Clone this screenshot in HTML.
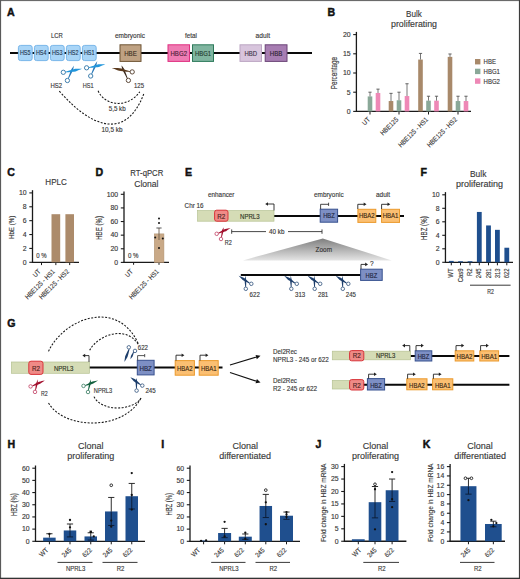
<!DOCTYPE html>
<html><head><meta charset="utf-8"><style>
html,body{margin:0;padding:0;background:#fff;}
svg{display:block;}
text{font-family:"Liberation Sans", sans-serif;stroke-width:0.14px;paint-order:stroke;}
svg{-webkit-font-smoothing:antialiased;}
</style></head><body>
<svg width="520" height="579" viewBox="0 0 520 579">
<rect x="0" y="0" width="520" height="579" fill="#fff"/>
<text x="7" y="16.4" font-size="10.6" fill="#111" stroke="#111" text-anchor="start" font-weight="bold" style="stroke-width:0.45px">A</text>
<text x="51" y="37.6" font-size="6.9" fill="#383838" stroke="#383838" text-anchor="start" textLength="11.8" lengthAdjust="spacingAndGlyphs">LCR</text>
<text x="115" y="37.6" font-size="6.9" fill="#383838" stroke="#383838" text-anchor="start" textLength="30" lengthAdjust="spacingAndGlyphs">embryonic</text>
<text x="185" y="37.6" font-size="6.9" fill="#383838" stroke="#383838" text-anchor="start" textLength="12" lengthAdjust="spacingAndGlyphs">fetal</text>
<text x="255.6" y="37.6" font-size="6.9" fill="#383838" stroke="#383838" text-anchor="start" textLength="14.4" lengthAdjust="spacingAndGlyphs">adult</text>
<line x1="10" y1="53" x2="312" y2="53" stroke="#0a0a0a" stroke-width="2"/>
<rect x="18.4" y="45.4" width="13.8" height="15.2" fill="#a9d5f7" stroke="#6eb0e6" stroke-width="0.9" rx="2.2"/>
<text x="25.2" y="55.4" font-size="7.2" fill="#22364f" stroke="#22364f" text-anchor="middle" textLength="10.6" lengthAdjust="spacingAndGlyphs">HS5</text>
<rect x="34.4" y="45.4" width="13.8" height="15.2" fill="#a9d5f7" stroke="#6eb0e6" stroke-width="0.9" rx="2.2"/>
<text x="41.2" y="55.4" font-size="7.2" fill="#22364f" stroke="#22364f" text-anchor="middle" textLength="10.6" lengthAdjust="spacingAndGlyphs">HS4</text>
<rect x="50.4" y="45.4" width="13.8" height="15.2" fill="#a9d5f7" stroke="#6eb0e6" stroke-width="0.9" rx="2.2"/>
<text x="57.2" y="55.4" font-size="7.2" fill="#22364f" stroke="#22364f" text-anchor="middle" textLength="10.6" lengthAdjust="spacingAndGlyphs">HS3</text>
<rect x="66.4" y="45.4" width="13.8" height="15.2" fill="#a9d5f7" stroke="#6eb0e6" stroke-width="0.9" rx="2.2"/>
<text x="73.2" y="55.4" font-size="7.2" fill="#22364f" stroke="#22364f" text-anchor="middle" textLength="10.6" lengthAdjust="spacingAndGlyphs">HS2</text>
<rect x="82.4" y="45.4" width="13.8" height="15.2" fill="#a9d5f7" stroke="#6eb0e6" stroke-width="0.9" rx="2.2"/>
<text x="89.2" y="55.4" font-size="7.2" fill="#22364f" stroke="#22364f" text-anchor="middle" textLength="10.6" lengthAdjust="spacingAndGlyphs">HS1</text>
<rect x="120" y="44.8" width="21" height="16.6" fill="#bfa283" stroke="#6e5434" stroke-width="1" rx="0"/>
<text x="130.5" y="55.6" font-size="7.2" fill="#3d3024" stroke="#3d3024" text-anchor="middle" textLength="12.600000000000001" lengthAdjust="spacingAndGlyphs">HBE</text>
<rect x="168" y="44.8" width="21.5" height="16.6" fill="#ef7cb3" stroke="#df2f80" stroke-width="1" rx="0"/>
<text x="178.75" y="55.6" font-size="7.2" fill="#4a2035" stroke="#4a2035" text-anchor="middle" textLength="16.5" lengthAdjust="spacingAndGlyphs">HBG2</text>
<rect x="192.5" y="44.8" width="21" height="16.6" fill="#80b5a0" stroke="#2d7a5a" stroke-width="1" rx="0"/>
<text x="203.0" y="55.6" font-size="7.2" fill="#1f3a2e" stroke="#1f3a2e" text-anchor="middle" textLength="16" lengthAdjust="spacingAndGlyphs">HBG1</text>
<rect x="240" y="44.8" width="21.5" height="16.6" fill="#d8c5dd" stroke="#bca6c3" stroke-width="1" rx="0"/>
<text x="250.75" y="55.6" font-size="7.2" fill="#3e3346" stroke="#3e3346" text-anchor="middle" textLength="12.600000000000001" lengthAdjust="spacingAndGlyphs">HBD</text>
<rect x="265.2" y="44.8" width="21.8" height="16.6" fill="#a77db2" stroke="#6b4577" stroke-width="1" rx="0"/>
<text x="276.09999999999997" y="55.6" font-size="7.2" fill="#2e2233" stroke="#2e2233" text-anchor="middle" textLength="12.600000000000001" lengthAdjust="spacingAndGlyphs">HBB</text>
<polygon points="68.61,78.68 69.30,77.47 69.95,76.23 70.60,74.99 71.23,73.75 71.87,72.51 72.50,71.27 73.05,69.99 73.36,68.60 73.65,67.21 73.95,65.82 73.85,65.78 73.03,66.94 72.20,68.09 71.38,69.25 70.81,70.53 70.32,71.83 69.84,73.14 69.35,74.45 68.88,75.76 68.41,77.07 67.97,78.40" fill="#2a78b8"/><polygon points="65.51,72.43 67.22,72.35 68.91,72.19 70.60,72.02 72.29,71.84 73.98,71.65 75.65,71.38 77.24,70.74 78.83,70.09 80.42,69.42 82.01,68.75 81.99,68.65 80.27,68.66 78.54,68.67 76.82,68.70 75.11,68.73 73.46,69.14 71.84,69.63 70.21,70.13 68.59,70.63 66.97,71.16 65.37,71.75" fill="#2196dc"/><circle cx="63.30" cy="72.30" r="2.15" fill="none" stroke="#3f7fae" stroke-width="1.0"/><circle cx="67.40" cy="80.50" r="2.15" fill="none" stroke="#3f7fae" stroke-width="1.0"/>
<polygon points="91.91,74.18 92.60,72.97 93.25,71.73 93.90,70.49 94.53,69.25 95.17,68.01 95.80,66.77 96.35,65.49 96.66,64.10 96.95,62.71 97.25,61.32 97.15,61.28 96.33,62.44 95.50,63.59 94.68,64.75 94.11,66.03 93.62,67.33 93.14,68.64 92.65,69.95 92.18,71.26 91.71,72.57 91.27,73.90" fill="#2a78b8"/><polygon points="88.81,67.93 90.52,67.85 92.21,67.69 93.90,67.52 95.59,67.34 97.28,67.15 98.95,66.88 100.54,66.24 102.13,65.59 103.72,64.92 105.31,64.25 105.29,64.15 103.57,64.16 101.84,64.17 100.12,64.20 98.41,64.23 96.76,64.64 95.14,65.13 93.51,65.63 91.89,66.13 90.27,66.66 88.67,67.25" fill="#2196dc"/><circle cx="86.60" cy="67.80" r="2.15" fill="none" stroke="#3f7fae" stroke-width="1.0"/><circle cx="90.70" cy="76.00" r="2.15" fill="none" stroke="#3f7fae" stroke-width="1.0"/>
<polygon points="127.73,78.35 127.25,76.99 126.75,75.64 126.24,74.29 125.72,72.95 125.20,71.61 124.68,70.27 124.15,68.93 123.35,67.72 122.45,66.55 121.55,65.38 121.45,65.42 121.73,66.87 122.02,68.32 122.39,69.72 123.05,71.00 123.71,72.28 124.37,73.56 125.03,74.84 125.70,76.11 126.38,77.38 127.09,78.64" fill="#3a2a1e"/><polygon points="130.13,71.29 128.40,70.69 126.65,70.15 124.89,69.63 123.14,69.12 121.38,68.62 119.61,68.17 117.76,68.12 115.92,68.09 114.06,68.07 112.21,68.05 112.19,68.15 113.91,68.84 115.63,69.53 117.36,70.20 119.08,70.85 120.89,71.11 122.70,71.32 124.52,71.52 126.34,71.70 128.16,71.87 130.00,71.98" fill="#5a3a1e"/><circle cx="132.20" cy="71.90" r="2.15" fill="none" stroke="#5e4a3a" stroke-width="1.0"/><circle cx="128.40" cy="80.40" r="2.15" fill="none" stroke="#5e4a3a" stroke-width="1.0"/>
<text x="50.4" y="87.5" font-size="6.6" fill="#383838" stroke="#383838" text-anchor="start" textLength="11.6" lengthAdjust="spacingAndGlyphs">HS2</text>
<text x="82.7" y="87.5" font-size="6.6" fill="#383838" stroke="#383838" text-anchor="start" textLength="10.8" lengthAdjust="spacingAndGlyphs">HS1</text>
<text x="134" y="87.5" font-size="6.6" fill="#383838" stroke="#383838" text-anchor="start" textLength="10" lengthAdjust="spacingAndGlyphs">125</text>
<path d="M 98.1 90.8 C 105 106.4, 128 108.4, 139.8 91.8" stroke="#151515" stroke-width="1.05" fill="none" stroke-dasharray="2 1.5"/>
<path d="M 59.3 91.1 C 92.3 128.9, 126.4 139.9, 143.8 93.8" stroke="#151515" stroke-width="1.05" fill="none" stroke-dasharray="2 1.5"/>
<text x="108.7" y="111.0" font-size="6.6" fill="#383838" stroke="#383838" text-anchor="start" textLength="17" lengthAdjust="spacingAndGlyphs">5,5 kb</text>
<text x="101.5" y="132.2" font-size="6.6" fill="#383838" stroke="#383838" text-anchor="start" textLength="21" lengthAdjust="spacingAndGlyphs">10,5 kb</text>
<text x="327.6" y="16.4" font-size="10.6" fill="#111" stroke="#111" text-anchor="start" font-weight="bold" style="stroke-width:0.45px">B</text>
<text x="414" y="16.6" font-size="9" fill="#383838" stroke="#383838" text-anchor="middle" textLength="15.8" lengthAdjust="spacingAndGlyphs">Bulk</text>
<text x="414" y="26.5" font-size="9" fill="#383838" stroke="#383838" text-anchor="middle" textLength="46" lengthAdjust="spacingAndGlyphs">proliferating</text>
<line x1="356.4" y1="31.90000000000001" x2="356.4" y2="112.0" stroke="#1a1a1a" stroke-width="1.3"/>
<line x1="353.2" y1="111.4" x2="356.4" y2="111.4" stroke="#1a1a1a" stroke-width="1.1"/>
<text x="350.59999999999997" y="113.727" font-size="6.5" fill="#383838" stroke="#383838" text-anchor="end" textLength="3.83" lengthAdjust="spacingAndGlyphs">0</text>
<line x1="353.2" y1="92.2" x2="356.4" y2="92.2" stroke="#1a1a1a" stroke-width="1.1"/>
<text x="350.59999999999997" y="94.527" font-size="6.5" fill="#383838" stroke="#383838" text-anchor="end" textLength="3.83" lengthAdjust="spacingAndGlyphs">5</text>
<line x1="353.2" y1="73.0" x2="356.4" y2="73.0" stroke="#1a1a1a" stroke-width="1.1"/>
<text x="350.59999999999997" y="75.327" font-size="6.5" fill="#383838" stroke="#383838" text-anchor="end" textLength="7.66" lengthAdjust="spacingAndGlyphs">10</text>
<line x1="353.2" y1="53.80000000000001" x2="356.4" y2="53.80000000000001" stroke="#1a1a1a" stroke-width="1.1"/>
<text x="350.59999999999997" y="56.12700000000001" font-size="6.5" fill="#383838" stroke="#383838" text-anchor="end" textLength="7.66" lengthAdjust="spacingAndGlyphs">15</text>
<line x1="353.2" y1="34.60000000000001" x2="356.4" y2="34.60000000000001" stroke="#1a1a1a" stroke-width="1.1"/>
<text x="350.59999999999997" y="36.92700000000001" font-size="6.5" fill="#383838" stroke="#383838" text-anchor="end" textLength="7.66" lengthAdjust="spacingAndGlyphs">20</text>
<line x1="356" y1="111.4" x2="471" y2="111.4" stroke="#1a1a1a" stroke-width="1.3"/>
<text x="337.4" y="73.2" font-size="8.5" fill="#383838" stroke="#383838" text-anchor="middle" textLength="32.2" lengthAdjust="spacingAndGlyphs" transform="rotate(-90 337.4 73.2)">Percentage</text>
<line x1="370" y1="111.5" x2="370" y2="114.5" stroke="#1a1a1a" stroke-width="1"/>
<rect x="367.7" y="96.424" width="4.6" height="14.975999999999999" fill="#8aa898" stroke="none" stroke-width="1" rx="0"/>
<line x1="370" y1="92.2" x2="370" y2="96.424" stroke="#555" stroke-width="0.8"/>
<line x1="368.4" y1="92.2" x2="371.6" y2="92.2" stroke="#555" stroke-width="0.9"/>
<rect x="375.7" y="92.968" width="4.6" height="18.432" fill="#ee88b6" stroke="none" stroke-width="1" rx="0"/>
<line x1="378" y1="89.12800000000001" x2="378" y2="92.968" stroke="#555" stroke-width="0.8"/>
<line x1="376.4" y1="89.12800000000001" x2="379.6" y2="89.12800000000001" stroke="#555" stroke-width="0.9"/>
<line x1="399" y1="111.5" x2="399" y2="114.5" stroke="#1a1a1a" stroke-width="1"/>
<rect x="388.7" y="101.03200000000001" width="4.6" height="10.368" fill="#a8896a" stroke="none" stroke-width="1" rx="0"/>
<line x1="391" y1="93.352" x2="391" y2="101.03200000000001" stroke="#555" stroke-width="0.8"/>
<line x1="389.4" y1="93.352" x2="392.6" y2="93.352" stroke="#555" stroke-width="0.9"/>
<rect x="396.7" y="100.26400000000001" width="4.6" height="11.136" fill="#8aa898" stroke="none" stroke-width="1" rx="0"/>
<line x1="399" y1="92.2" x2="399" y2="100.26400000000001" stroke="#555" stroke-width="0.8"/>
<line x1="397.4" y1="92.2" x2="400.6" y2="92.2" stroke="#555" stroke-width="0.9"/>
<rect x="404.7" y="96.04" width="4.6" height="15.36" fill="#ee88b6" stroke="none" stroke-width="1" rx="0"/>
<line x1="407" y1="83.75200000000001" x2="407" y2="96.04" stroke="#555" stroke-width="0.8"/>
<line x1="405.4" y1="83.75200000000001" x2="408.6" y2="83.75200000000001" stroke="#555" stroke-width="0.9"/>
<line x1="428.5" y1="111.5" x2="428.5" y2="114.5" stroke="#1a1a1a" stroke-width="1"/>
<rect x="418.2" y="59.56000000000001" width="4.6" height="51.839999999999996" fill="#a8896a" stroke="none" stroke-width="1" rx="0"/>
<line x1="420.5" y1="53.41600000000001" x2="420.5" y2="59.56000000000001" stroke="#555" stroke-width="0.8"/>
<line x1="418.9" y1="53.41600000000001" x2="422.1" y2="53.41600000000001" stroke="#555" stroke-width="0.9"/>
<rect x="426.2" y="100.64800000000001" width="4.6" height="10.751999999999999" fill="#8aa898" stroke="none" stroke-width="1" rx="0"/>
<line x1="428.5" y1="96.232" x2="428.5" y2="100.64800000000001" stroke="#555" stroke-width="0.8"/>
<line x1="426.9" y1="96.232" x2="430.1" y2="96.232" stroke="#555" stroke-width="0.9"/>
<rect x="434.2" y="100.64800000000001" width="4.6" height="10.751999999999999" fill="#ee88b6" stroke="none" stroke-width="1" rx="0"/>
<line x1="436.5" y1="96.232" x2="436.5" y2="100.64800000000001" stroke="#555" stroke-width="0.8"/>
<line x1="434.9" y1="96.232" x2="438.1" y2="96.232" stroke="#555" stroke-width="0.9"/>
<line x1="458" y1="111.5" x2="458" y2="114.5" stroke="#1a1a1a" stroke-width="1"/>
<rect x="447.7" y="56.87200000000001" width="4.6" height="54.528" fill="#a8896a" stroke="none" stroke-width="1" rx="0"/>
<line x1="450" y1="53.99200000000001" x2="450" y2="56.87200000000001" stroke="#555" stroke-width="0.8"/>
<line x1="448.4" y1="53.99200000000001" x2="451.6" y2="53.99200000000001" stroke="#555" stroke-width="0.9"/>
<rect x="455.7" y="101.03200000000001" width="4.6" height="10.368" fill="#8aa898" stroke="none" stroke-width="1" rx="0"/>
<line x1="458" y1="96.232" x2="458" y2="101.03200000000001" stroke="#555" stroke-width="0.8"/>
<line x1="456.4" y1="96.232" x2="459.6" y2="96.232" stroke="#555" stroke-width="0.9"/>
<rect x="463.7" y="101.03200000000001" width="4.6" height="10.368" fill="#ee88b6" stroke="none" stroke-width="1" rx="0"/>
<line x1="466" y1="96.232" x2="466" y2="101.03200000000001" stroke="#555" stroke-width="0.8"/>
<line x1="464.4" y1="96.232" x2="467.6" y2="96.232" stroke="#555" stroke-width="0.9"/>
<text x="370.5" y="120" font-size="6.8" fill="#383838" stroke="#383838" text-anchor="end" textLength="7.98" lengthAdjust="spacingAndGlyphs" transform="rotate(-45 370.5 120)">UT</text>
<text x="398.8" y="120" font-size="6.8" fill="#383838" stroke="#383838" text-anchor="end" textLength="22.29" lengthAdjust="spacingAndGlyphs" transform="rotate(-45 398.8 120)">HBE125</text>
<text x="428.7" y="120" font-size="6.8" fill="#383838" stroke="#383838" text-anchor="end" textLength="39.25" lengthAdjust="spacingAndGlyphs" transform="rotate(-45 428.7 120)">HBE125 - HS1</text>
<text x="457.5" y="120" font-size="6.8" fill="#383838" stroke="#383838" text-anchor="end" textLength="39.25" lengthAdjust="spacingAndGlyphs" transform="rotate(-45 457.5 120)">HBE125 - HS2</text>
<rect x="475" y="59.0" width="5.4" height="5.4" fill="#a8896a" stroke="none" stroke-width="1" rx="0"/>
<text x="483.6" y="64.2" font-size="6.9" fill="#383838" stroke="#383838" text-anchor="start" textLength="12.34" lengthAdjust="spacingAndGlyphs">HBE</text>
<rect x="475" y="68.7" width="5.4" height="5.4" fill="#8aa898" stroke="none" stroke-width="1" rx="0"/>
<text x="483.6" y="73.9" font-size="6.9" fill="#383838" stroke="#383838" text-anchor="start" textLength="16.35" lengthAdjust="spacingAndGlyphs">HBG1</text>
<rect x="475" y="78.4" width="5.4" height="5.4" fill="#ee88b6" stroke="none" stroke-width="1" rx="0"/>
<text x="483.6" y="83.60000000000001" font-size="6.9" fill="#383838" stroke="#383838" text-anchor="start" textLength="16.35" lengthAdjust="spacingAndGlyphs">HBG2</text>
<text x="7.3" y="176.2" font-size="10.6" fill="#111" stroke="#111" text-anchor="start" font-weight="bold" style="stroke-width:0.45px">C</text>
<text x="56.1" y="185" font-size="9" fill="#383838" stroke="#383838" text-anchor="middle" textLength="21.5" lengthAdjust="spacingAndGlyphs">HPLC</text>
<line x1="32.5" y1="190.20000000000002" x2="32.5" y2="262.90000000000003" stroke="#1a1a1a" stroke-width="1.3"/>
<line x1="29.3" y1="262.3" x2="32.5" y2="262.3" stroke="#1a1a1a" stroke-width="1.1"/>
<text x="26.7" y="264.627" font-size="6.5" fill="#383838" stroke="#383838" text-anchor="end" textLength="3.83" lengthAdjust="spacingAndGlyphs">0</text>
<line x1="29.3" y1="248.42000000000002" x2="32.5" y2="248.42000000000002" stroke="#1a1a1a" stroke-width="1.1"/>
<text x="26.7" y="250.747" font-size="6.5" fill="#383838" stroke="#383838" text-anchor="end" textLength="3.83" lengthAdjust="spacingAndGlyphs">2</text>
<line x1="29.3" y1="234.54000000000002" x2="32.5" y2="234.54000000000002" stroke="#1a1a1a" stroke-width="1.1"/>
<text x="26.7" y="236.86700000000002" font-size="6.5" fill="#383838" stroke="#383838" text-anchor="end" textLength="3.83" lengthAdjust="spacingAndGlyphs">4</text>
<line x1="29.3" y1="220.66000000000003" x2="32.5" y2="220.66000000000003" stroke="#1a1a1a" stroke-width="1.1"/>
<text x="26.7" y="222.98700000000002" font-size="6.5" fill="#383838" stroke="#383838" text-anchor="end" textLength="3.83" lengthAdjust="spacingAndGlyphs">6</text>
<line x1="29.3" y1="206.78" x2="32.5" y2="206.78" stroke="#1a1a1a" stroke-width="1.1"/>
<text x="26.7" y="209.107" font-size="6.5" fill="#383838" stroke="#383838" text-anchor="end" textLength="3.83" lengthAdjust="spacingAndGlyphs">8</text>
<line x1="29.3" y1="192.9" x2="32.5" y2="192.9" stroke="#1a1a1a" stroke-width="1.1"/>
<text x="26.7" y="195.227" font-size="6.5" fill="#383838" stroke="#383838" text-anchor="end" textLength="7.66" lengthAdjust="spacingAndGlyphs">10</text>
<line x1="32" y1="262.3" x2="79" y2="262.3" stroke="#1a1a1a" stroke-width="1.3"/>
<text x="14.0" y="227.4" font-size="8.1" fill="#383838" stroke="#383838" text-anchor="middle" textLength="23.3" lengthAdjust="spacingAndGlyphs" transform="rotate(-90 14.0 227.4)">HbE (%)</text>
<line x1="41.5" y1="262.3" x2="41.5" y2="265.1" stroke="#1a1a1a" stroke-width="1"/>
<line x1="55.85" y1="262.3" x2="55.85" y2="265.1" stroke="#1a1a1a" stroke-width="1"/>
<line x1="69.7" y1="262.3" x2="69.7" y2="265.1" stroke="#1a1a1a" stroke-width="1"/>
<rect x="51.5" y="214.2" width="8.7" height="48.10000000000002" fill="#ac8b6b" stroke="none" stroke-width="1" rx="0"/>
<rect x="65.4" y="214.2" width="8.6" height="48.10000000000002" fill="#ac8b6b" stroke="none" stroke-width="1" rx="0"/>
<text x="36.3" y="257.7" font-size="6.6" fill="#383838" stroke="#383838" text-anchor="start" textLength="10.4" lengthAdjust="spacingAndGlyphs">0 %</text>
<text x="41.2" y="272" font-size="6.8" fill="#383838" stroke="#383838" text-anchor="end" textLength="7.98" lengthAdjust="spacingAndGlyphs" transform="rotate(-45 41.2 272)">UT</text>
<text x="55.4" y="272" font-size="6.8" fill="#383838" stroke="#383838" text-anchor="end" textLength="39.25" lengthAdjust="spacingAndGlyphs" transform="rotate(-45 55.4 272)">HBE125 - HS1</text>
<text x="69.5" y="272" font-size="6.8" fill="#383838" stroke="#383838" text-anchor="end" textLength="39.25" lengthAdjust="spacingAndGlyphs" transform="rotate(-45 69.5 272)">HBE125 - HS2</text>
<text x="95.4" y="176.2" font-size="10.6" fill="#111" stroke="#111" text-anchor="start" font-weight="bold" style="stroke-width:0.45px">D</text>
<text x="146.8" y="176.4" font-size="9" fill="#383838" stroke="#383838" text-anchor="middle" textLength="33" lengthAdjust="spacingAndGlyphs">RT-qPCR</text>
<text x="146.4" y="186.8" font-size="9" fill="#383838" stroke="#383838" text-anchor="middle" textLength="24.2" lengthAdjust="spacingAndGlyphs">Clonal</text>
<line x1="124" y1="191.59999999999997" x2="124" y2="263.0" stroke="#1a1a1a" stroke-width="1.3"/>
<line x1="120.8" y1="262.4" x2="124" y2="262.4" stroke="#1a1a1a" stroke-width="1.1"/>
<text x="118.2" y="264.727" font-size="6.5" fill="#383838" stroke="#383838" text-anchor="end" textLength="3.83" lengthAdjust="spacingAndGlyphs">0</text>
<line x1="120.8" y1="248.77999999999997" x2="124" y2="248.77999999999997" stroke="#1a1a1a" stroke-width="1.1"/>
<text x="118.2" y="251.10699999999997" font-size="6.5" fill="#383838" stroke="#383838" text-anchor="end" textLength="7.66" lengthAdjust="spacingAndGlyphs">20</text>
<line x1="120.8" y1="235.15999999999997" x2="124" y2="235.15999999999997" stroke="#1a1a1a" stroke-width="1.1"/>
<text x="118.2" y="237.48699999999997" font-size="6.5" fill="#383838" stroke="#383838" text-anchor="end" textLength="7.66" lengthAdjust="spacingAndGlyphs">40</text>
<line x1="120.8" y1="221.53999999999996" x2="124" y2="221.53999999999996" stroke="#1a1a1a" stroke-width="1.1"/>
<text x="118.2" y="223.86699999999996" font-size="6.5" fill="#383838" stroke="#383838" text-anchor="end" textLength="7.66" lengthAdjust="spacingAndGlyphs">60</text>
<line x1="120.8" y1="207.91999999999996" x2="124" y2="207.91999999999996" stroke="#1a1a1a" stroke-width="1.1"/>
<text x="118.2" y="210.24699999999996" font-size="6.5" fill="#383838" stroke="#383838" text-anchor="end" textLength="7.66" lengthAdjust="spacingAndGlyphs">80</text>
<line x1="120.8" y1="194.29999999999995" x2="124" y2="194.29999999999995" stroke="#1a1a1a" stroke-width="1.1"/>
<text x="118.2" y="196.62699999999995" font-size="6.5" fill="#383838" stroke="#383838" text-anchor="end" textLength="11.49" lengthAdjust="spacingAndGlyphs">100</text>
<line x1="123.5" y1="262.4" x2="169" y2="262.4" stroke="#1a1a1a" stroke-width="1.3"/>
<text x="102.0" y="227.9" font-size="8.7" fill="#383838" stroke="#383838" text-anchor="middle" textLength="23.9" lengthAdjust="spacingAndGlyphs" transform="rotate(-90 102.0 227.9)">HBE (%)</text>
<line x1="133.6" y1="262.4" x2="133.6" y2="264.79999999999995" stroke="#1a1a1a" stroke-width="1"/>
<line x1="159" y1="262.4" x2="159" y2="264.79999999999995" stroke="#1a1a1a" stroke-width="1"/>
<rect x="154.3" y="233.9" width="9.6" height="28.49999999999997" fill="#c9a987" stroke="#b39474" stroke-width="0.6" rx="0"/>
<line x1="159" y1="228" x2="159" y2="240" stroke="#6e5e4c" stroke-width="0.9"/>
<line x1="156.4" y1="228" x2="161.6" y2="228" stroke="#444" stroke-width="0.9"/>
<circle cx="159" cy="218.5" r="1.0" fill="#111" stroke="none" stroke-width="1"/>
<circle cx="159" cy="223" r="1.0" fill="#111" stroke="none" stroke-width="1"/>
<circle cx="155.2" cy="237.6" r="1.0" fill="#111" stroke="none" stroke-width="1"/>
<circle cx="162.8" cy="238.6" r="1.0" fill="#111" stroke="none" stroke-width="1"/>
<circle cx="159" cy="248" r="1.0" fill="#111" stroke="none" stroke-width="1"/>
<text x="128" y="258" font-size="6.6" fill="#383838" stroke="#383838" text-anchor="start" textLength="10.6" lengthAdjust="spacingAndGlyphs">0 %</text>
<text x="133.4" y="272" font-size="6.8" fill="#383838" stroke="#383838" text-anchor="end" textLength="7.98" lengthAdjust="spacingAndGlyphs" transform="rotate(-45 133.4 272)">UT</text>
<text x="159.4" y="272" font-size="6.8" fill="#383838" stroke="#383838" text-anchor="end" textLength="39.25" lengthAdjust="spacingAndGlyphs" transform="rotate(-45 159.4 272)">HBE125 - HS1</text>
<text x="185" y="176.2" font-size="10.6" fill="#111" stroke="#111" text-anchor="start" font-weight="bold" style="stroke-width:0.45px">E</text>
<text x="208" y="196.8" font-size="7.0" fill="#383838" stroke="#383838" text-anchor="start" textLength="26.5" lengthAdjust="spacingAndGlyphs">enhancer</text>
<text x="184.6" y="208.2" font-size="6.9" fill="#383838" stroke="#383838" text-anchor="start" textLength="18.9" lengthAdjust="spacingAndGlyphs">Chr 16</text>
<text x="314" y="197.4" font-size="6.9" fill="#383838" stroke="#383838" text-anchor="start" textLength="29.6" lengthAdjust="spacingAndGlyphs">embryonic</text>
<text x="376" y="197.4" font-size="6.9" fill="#383838" stroke="#383838" text-anchor="start" textLength="14" lengthAdjust="spacingAndGlyphs">adult</text>
<line x1="274" y1="216" x2="404" y2="216" stroke="#0a0a0a" stroke-width="2"/>
<rect x="197.6" y="210.6" width="76.4" height="10.6" fill="#d5dcb6" stroke="#b6c293" stroke-width="0.7" rx="0"/>
<rect x="214.6" y="210.2" width="13.4" height="11" fill="#ef8a86" stroke="#d8343a" stroke-width="1" rx="2"/>
<text x="221.3" y="219" font-size="6.8" fill="#4a1e1e" stroke="#4a1e1e" text-anchor="middle" textLength="8" lengthAdjust="spacingAndGlyphs">R2</text>
<text x="249.8" y="219" font-size="6.8" fill="#2e3322" stroke="#2e3322" text-anchor="middle" textLength="19.6" lengthAdjust="spacingAndGlyphs">NPRL3</text>
<path d="M 274 210.4 L 274 204 L 267.4 204" stroke="#222" stroke-width="0.9" fill="none"/>
<polygon points="265.2,204 268.0,202.2 268.0,205.8" fill="#222"/>
<rect x="320.2" y="209.2" width="17.4" height="13" fill="#7d8fc4" stroke="#37518f" stroke-width="1" rx="0"/>
<text x="329.0" y="218.2" font-size="6.8" fill="#1d2540" stroke="#1d2540" text-anchor="middle" textLength="11.6" lengthAdjust="spacingAndGlyphs">HBZ</text>
<path d="M 320.6 209 L 320.6 204.3 L 328.6 204.3" stroke="#333" stroke-width="0.9" fill="none"/>
<line x1="328.6" y1="202.70000000000002" x2="328.6" y2="205.9" stroke="#333" stroke-width="0.9"/>
<rect x="357.9" y="209.3" width="17.9" height="13.1" fill="#fbbf72" stroke="#eb9a2c" stroke-width="1" rx="0"/>
<rect x="381.6" y="209.3" width="17.9" height="13.1" fill="#fbbf72" stroke="#eb9a2c" stroke-width="1" rx="0"/>
<text x="366.8" y="218.2" font-size="6.8" fill="#3b2a12" stroke="#3b2a12" text-anchor="middle" textLength="15.8" lengthAdjust="spacingAndGlyphs">HBA2</text>
<text x="390.6" y="218.2" font-size="6.8" fill="#3b2a12" stroke="#3b2a12" text-anchor="middle" textLength="15.8" lengthAdjust="spacingAndGlyphs">HBA1</text>
<path d="M 357.8 209 L 357.8 204.3 L 364.3 204.3" stroke="#222" stroke-width="0.9" fill="none"/>
<polygon points="366.5,204.3 363.7,202.5 363.7,206.10000000000002" fill="#222"/>
<path d="M 381.6 209 L 381.6 204.3 L 388.1 204.3" stroke="#222" stroke-width="0.9" fill="none"/>
<polygon points="390.3,204.3 387.5,202.5 387.5,206.10000000000002" fill="#222"/>
<line x1="231.7" y1="231.6" x2="266" y2="231.6" stroke="#333" stroke-width="0.9"/>
<line x1="288" y1="231.6" x2="322" y2="231.6" stroke="#333" stroke-width="0.9"/>
<line x1="231.7" y1="229.4" x2="231.7" y2="233.8" stroke="#333" stroke-width="0.9"/>
<line x1="322" y1="229.4" x2="322" y2="233.8" stroke="#333" stroke-width="0.9"/>
<text x="269" y="234.2" font-size="6.6" fill="#383838" stroke="#383838" text-anchor="start" textLength="15.4" lengthAdjust="spacingAndGlyphs">40 kb</text>
<polygon points="221.73,237.37 222.04,236.41 222.32,235.45 222.60,234.48 222.88,233.51 223.15,232.55 223.41,231.58 223.68,230.61 223.67,229.59 223.61,228.55 223.55,227.51 223.45,227.49 222.97,228.41 222.48,229.33 222.05,230.26 221.90,231.25 221.74,232.25 221.59,233.24 221.44,234.23 221.29,235.22 221.16,236.22 221.04,237.22" fill="#a3102e"/><polygon points="218.47,233.50 219.77,233.17 221.05,232.79 222.32,232.41 223.58,232.01 224.85,231.60 226.08,231.13 227.20,230.37 228.31,229.60 229.41,228.82 230.52,228.05 230.48,227.95 229.15,228.21 227.83,228.47 226.50,228.74 225.18,229.01 223.98,229.57 222.82,230.20 221.65,230.84 220.49,231.48 219.33,232.14 218.20,232.85" fill="#a3102e"/><circle cx="216.70" cy="233.80" r="1.75" fill="none" stroke="#c4486a" stroke-width="0.85"/><circle cx="221.00" cy="239.00" r="1.75" fill="none" stroke="#c4486a" stroke-width="0.85"/>
<text x="224.8" y="245" font-size="6.6" fill="#383838" stroke="#383838" text-anchor="start" textLength="7" lengthAdjust="spacingAndGlyphs">R2</text>
<defs><linearGradient id="zg" x1="0" y1="0" x2="0" y2="1"><stop offset="0" stop-color="#7e7e7e"/><stop offset="1" stop-color="#e4e4e4"/></linearGradient></defs>
<polygon points="322.8,238.4 243,260.4 391.6,260.4" fill="url(#zg)"/>
<text x="323.8" y="252" font-size="7.2" fill="#333" stroke="#333" text-anchor="middle" textLength="16.4" lengthAdjust="spacingAndGlyphs">Zoom</text>
<line x1="240.8" y1="275.0" x2="361" y2="275.0" stroke="#0a0a0a" stroke-width="2"/>
<rect x="360.6" y="269.2" width="21.6" height="11.2" fill="#7d8fc4" stroke="#37518f" stroke-width="1" rx="0"/>
<text x="371.4" y="278.2" font-size="6.8" fill="#1d2540" stroke="#1d2540" text-anchor="middle" textLength="11.6" lengthAdjust="spacingAndGlyphs">HBZ</text>
<path d="M 361 269 L 361 264.4 L 365.8 264.4" stroke="#222" stroke-width="0.9" fill="none"/>
<polygon points="368.0,264.4 365.2,262.59999999999997 365.2,266.2" fill="#222"/>
<text x="370" y="265.6" font-size="6.5" fill="#333" stroke="#333" text-anchor="start">?</text>
<polygon points="246.03,287.04 246.11,285.93 246.17,284.82 246.22,283.72 246.26,282.61 246.29,281.50 246.32,280.39 246.08,279.29 245.84,278.20 245.59,277.10 245.35,276.00 245.25,276.00 245.09,277.11 244.91,278.23 244.74,279.34 244.58,280.45 244.68,281.55 244.79,282.66 244.91,283.76 245.03,284.86 245.16,285.97 245.33,287.07" fill="#1d3e6b"/><polygon points="249.84,282.96 248.87,282.03 247.87,281.15 246.86,280.28 245.84,279.42 244.82,278.56 243.74,277.81 242.49,277.29 241.24,276.77 239.98,276.27 238.73,275.76 238.67,275.84 239.60,276.82 240.53,277.81 241.47,278.78 242.42,279.75 243.52,280.48 244.69,281.12 245.86,281.75 247.04,282.37 248.22,282.98 249.44,283.54" fill="#1d3e6b"/><circle cx="251.30" cy="283.80" r="1.75" fill="none" stroke="#3a5a82" stroke-width="0.85"/><circle cx="245.80" cy="288.80" r="1.75" fill="none" stroke="#3a5a82" stroke-width="0.85"/>
<text x="249.6" y="297.0" font-size="6.6" fill="#383838" stroke="#383838" text-anchor="start" textLength="10.2" lengthAdjust="spacingAndGlyphs">622</text>
<polygon points="291.53,287.04 291.61,285.93 291.67,284.82 291.72,283.72 291.76,282.61 291.79,281.50 291.82,280.39 291.58,279.29 291.34,278.20 291.09,277.10 290.85,276.00 290.75,276.00 290.59,277.11 290.41,278.23 290.24,279.34 290.08,280.45 290.18,281.55 290.29,282.66 290.41,283.76 290.53,284.86 290.66,285.97 290.83,287.07" fill="#1d3e6b"/><polygon points="295.34,282.96 294.37,282.03 293.37,281.15 292.36,280.28 291.34,279.42 290.32,278.56 289.24,277.81 287.99,277.29 286.74,276.77 285.48,276.27 284.23,275.76 284.17,275.84 285.10,276.82 286.03,277.81 286.97,278.78 287.92,279.75 289.02,280.48 290.19,281.12 291.36,281.75 292.54,282.37 293.72,282.98 294.94,283.54" fill="#1d3e6b"/><circle cx="296.80" cy="283.80" r="1.75" fill="none" stroke="#3a5a82" stroke-width="0.85"/><circle cx="291.30" cy="288.80" r="1.75" fill="none" stroke="#3a5a82" stroke-width="0.85"/>
<text x="295" y="297.0" font-size="6.6" fill="#383838" stroke="#383838" text-anchor="start" textLength="10.2" lengthAdjust="spacingAndGlyphs">313</text>
<polygon points="314.93,287.04 315.01,285.93 315.07,284.82 315.12,283.72 315.16,282.61 315.19,281.50 315.22,280.39 314.98,279.29 314.74,278.20 314.49,277.10 314.25,276.00 314.15,276.00 313.99,277.11 313.81,278.23 313.64,279.34 313.48,280.45 313.58,281.55 313.69,282.66 313.81,283.76 313.93,284.86 314.06,285.97 314.23,287.07" fill="#1d3e6b"/><polygon points="318.74,282.96 317.77,282.03 316.77,281.15 315.76,280.28 314.74,279.42 313.72,278.56 312.64,277.81 311.39,277.29 310.14,276.77 308.88,276.27 307.63,275.76 307.57,275.84 308.50,276.82 309.43,277.81 310.37,278.78 311.32,279.75 312.42,280.48 313.59,281.12 314.76,281.75 315.94,282.37 317.12,282.98 318.34,283.54" fill="#1d3e6b"/><circle cx="320.20" cy="283.80" r="1.75" fill="none" stroke="#3a5a82" stroke-width="0.85"/><circle cx="314.70" cy="288.80" r="1.75" fill="none" stroke="#3a5a82" stroke-width="0.85"/>
<text x="318" y="297.0" font-size="6.6" fill="#383838" stroke="#383838" text-anchor="start" textLength="10.2" lengthAdjust="spacingAndGlyphs">281</text>
<polygon points="343.03,287.04 343.11,285.93 343.17,284.82 343.22,283.72 343.26,282.61 343.29,281.50 343.32,280.39 343.08,279.29 342.84,278.20 342.59,277.10 342.35,276.00 342.25,276.00 342.09,277.11 341.91,278.23 341.74,279.34 341.58,280.45 341.68,281.55 341.79,282.66 341.91,283.76 342.03,284.86 342.16,285.97 342.33,287.07" fill="#1d3e6b"/><polygon points="346.84,282.96 345.87,282.03 344.87,281.15 343.86,280.28 342.84,279.42 341.82,278.56 340.74,277.81 339.49,277.29 338.24,276.77 336.98,276.27 335.73,275.76 335.67,275.84 336.60,276.82 337.53,277.81 338.47,278.78 339.42,279.75 340.52,280.48 341.69,281.12 342.86,281.75 344.04,282.37 345.22,282.98 346.44,283.54" fill="#1d3e6b"/><circle cx="348.30" cy="283.80" r="1.75" fill="none" stroke="#3a5a82" stroke-width="0.85"/><circle cx="342.80" cy="288.80" r="1.75" fill="none" stroke="#3a5a82" stroke-width="0.85"/>
<text x="345.8" y="297.0" font-size="6.6" fill="#383838" stroke="#383838" text-anchor="start" textLength="10.2" lengthAdjust="spacingAndGlyphs">245</text>
<text x="420.4" y="176.2" font-size="10.6" fill="#111" stroke="#111" text-anchor="start" font-weight="bold" style="stroke-width:0.45px">F</text>
<text x="478.2" y="177" font-size="9" fill="#383838" stroke="#383838" text-anchor="middle" textLength="16.4" lengthAdjust="spacingAndGlyphs">Bulk</text>
<text x="479.5" y="187.4" font-size="9" fill="#383838" stroke="#383838" text-anchor="middle" textLength="47" lengthAdjust="spacingAndGlyphs">proliferating</text>
<line x1="445.45" y1="192.10000000000002" x2="445.45" y2="262.90000000000003" stroke="#1a1a1a" stroke-width="1.3"/>
<line x1="442.25" y1="262.3" x2="445.45" y2="262.3" stroke="#1a1a1a" stroke-width="1.1"/>
<text x="439.65" y="264.627" font-size="6.5" fill="#383838" stroke="#383838" text-anchor="end" textLength="3.83" lengthAdjust="spacingAndGlyphs">0</text>
<line x1="442.25" y1="248.8" x2="445.45" y2="248.8" stroke="#1a1a1a" stroke-width="1.1"/>
<text x="439.65" y="251.127" font-size="6.5" fill="#383838" stroke="#383838" text-anchor="end" textLength="3.83" lengthAdjust="spacingAndGlyphs">2</text>
<line x1="442.25" y1="235.3" x2="445.45" y2="235.3" stroke="#1a1a1a" stroke-width="1.1"/>
<text x="439.65" y="237.627" font-size="6.5" fill="#383838" stroke="#383838" text-anchor="end" textLength="3.83" lengthAdjust="spacingAndGlyphs">4</text>
<line x1="442.25" y1="221.8" x2="445.45" y2="221.8" stroke="#1a1a1a" stroke-width="1.1"/>
<text x="439.65" y="224.127" font-size="6.5" fill="#383838" stroke="#383838" text-anchor="end" textLength="3.83" lengthAdjust="spacingAndGlyphs">6</text>
<line x1="442.25" y1="208.3" x2="445.45" y2="208.3" stroke="#1a1a1a" stroke-width="1.1"/>
<text x="439.65" y="210.627" font-size="6.5" fill="#383838" stroke="#383838" text-anchor="end" textLength="3.83" lengthAdjust="spacingAndGlyphs">8</text>
<line x1="442.25" y1="194.8" x2="445.45" y2="194.8" stroke="#1a1a1a" stroke-width="1.1"/>
<text x="439.65" y="197.127" font-size="6.5" fill="#383838" stroke="#383838" text-anchor="end" textLength="7.66" lengthAdjust="spacingAndGlyphs">10</text>
<line x1="445" y1="262.3" x2="513" y2="262.3" stroke="#1a1a1a" stroke-width="1.3"/>
<text x="427.0" y="228.1" font-size="8.5" fill="#383838" stroke="#383838" text-anchor="middle" textLength="23.6" lengthAdjust="spacingAndGlyphs" transform="rotate(-90 427.0 228.1)">HBZ (%)</text>
<line x1="451.3" y1="262.3" x2="451.3" y2="265.3" stroke="#1a1a1a" stroke-width="1"/>
<rect x="448.90000000000003" y="260.88750000000005" width="4.8" height="1.4125" fill="#1f4f8e" stroke="none" stroke-width="1" rx="0"/>
<text x="453.5" y="268.4" font-size="6.4" fill="#383838" stroke="#383838" text-anchor="end" textLength="9.25" lengthAdjust="spacingAndGlyphs" transform="rotate(-90 453.5 268.4)">WT</text>
<line x1="460.5" y1="262.3" x2="460.5" y2="265.3" stroke="#1a1a1a" stroke-width="1"/>
<rect x="458.1" y="261.225" width="4.8" height="1.0750000000000002" fill="#1f4f8e" stroke="none" stroke-width="1" rx="0"/>
<text x="462.7" y="268.4" font-size="6.4" fill="#383838" stroke="#383838" text-anchor="end" textLength="13.89" lengthAdjust="spacingAndGlyphs" transform="rotate(-90 462.7 268.4)">Cas9</text>
<line x1="470" y1="262.3" x2="470" y2="265.3" stroke="#1a1a1a" stroke-width="1"/>
<rect x="467.6" y="261.225" width="4.8" height="1.0750000000000002" fill="#1f4f8e" stroke="none" stroke-width="1" rx="0"/>
<text x="472.2" y="268.4" font-size="6.4" fill="#383838" stroke="#383838" text-anchor="end" textLength="7.61" lengthAdjust="spacingAndGlyphs" transform="rotate(-90 472.2 268.4)">R2</text>
<line x1="479.3" y1="262.3" x2="479.3" y2="265.3" stroke="#1a1a1a" stroke-width="1"/>
<rect x="476.90000000000003" y="211.95000000000002" width="4.8" height="50.35" fill="#1f4f8e" stroke="none" stroke-width="1" rx="0"/>
<text x="481.5" y="268.4" font-size="6.4" fill="#383838" stroke="#383838" text-anchor="end" textLength="9.93" lengthAdjust="spacingAndGlyphs" transform="rotate(-90 481.5 268.4)">245</text>
<line x1="488.5" y1="262.3" x2="488.5" y2="265.3" stroke="#1a1a1a" stroke-width="1"/>
<rect x="486.1" y="225.45000000000002" width="4.8" height="36.85" fill="#1f4f8e" stroke="none" stroke-width="1" rx="0"/>
<text x="490.7" y="268.4" font-size="6.4" fill="#383838" stroke="#383838" text-anchor="end" textLength="9.93" lengthAdjust="spacingAndGlyphs" transform="rotate(-90 490.7 268.4)">281</text>
<line x1="497.4" y1="262.3" x2="497.4" y2="265.3" stroke="#1a1a1a" stroke-width="1"/>
<rect x="495.0" y="229.8375" width="4.8" height="32.4625" fill="#1f4f8e" stroke="none" stroke-width="1" rx="0"/>
<text x="499.59999999999997" y="268.4" font-size="6.4" fill="#383838" stroke="#383838" text-anchor="end" textLength="9.93" lengthAdjust="spacingAndGlyphs" transform="rotate(-90 499.59999999999997 268.4)">313</text>
<line x1="506.8" y1="262.3" x2="506.8" y2="265.3" stroke="#1a1a1a" stroke-width="1"/>
<rect x="504.40000000000003" y="247.725" width="4.8" height="14.575000000000001" fill="#1f4f8e" stroke="none" stroke-width="1" rx="0"/>
<text x="509.0" y="268.4" font-size="6.4" fill="#383838" stroke="#383838" text-anchor="end" textLength="9.93" lengthAdjust="spacingAndGlyphs" transform="rotate(-90 509.0 268.4)">622</text>
<line x1="470" y1="285.2" x2="510.6" y2="285.2" stroke="#222" stroke-width="0.9"/>
<text x="490.6" y="293.6" font-size="6.6" fill="#383838" stroke="#383838" text-anchor="middle" textLength="6.6" lengthAdjust="spacingAndGlyphs">R2</text>
<text x="7.2" y="326.7" font-size="10.6" fill="#111" stroke="#111" text-anchor="start" font-weight="bold" style="stroke-width:0.45px">G</text>
<line x1="89" y1="367.6" x2="222.5" y2="367.6" stroke="#0a0a0a" stroke-width="2"/>
<rect x="11.4" y="362" width="78" height="11.3" fill="#d5dcb6" stroke="#b6c293" stroke-width="0.7" rx="0"/>
<rect x="28.8" y="361.2" width="14.2" height="13.2" fill="#ef8a86" stroke="#d8343a" stroke-width="1" rx="2.2"/>
<text x="35.9" y="370.6" font-size="6.8" fill="#4a1e1e" stroke="#4a1e1e" text-anchor="middle" textLength="8" lengthAdjust="spacingAndGlyphs">R2</text>
<text x="63.7" y="370.6" font-size="6.8" fill="#2e3322" stroke="#2e3322" text-anchor="middle" textLength="19.5" lengthAdjust="spacingAndGlyphs">NPRL3</text>
<path d="M 89 362 L 89 355.6 L 84.6 355.6" stroke="#222" stroke-width="0.9" fill="none"/>
<polygon points="82.39999999999999,355.6 85.19999999999999,353.8 85.19999999999999,357.40000000000003" fill="#222"/>
<rect x="137.3" y="360.3" width="16.8" height="14.6" fill="#7d8fc4" stroke="#37518f" stroke-width="1" rx="0"/>
<text x="145.7" y="370.6" font-size="6.8" fill="#1d2540" stroke="#1d2540" text-anchor="middle" textLength="12.4" lengthAdjust="spacingAndGlyphs">HBZ</text>
<path d="M 137.6 360.3 L 137.6 355.6 L 144.7 355.6" stroke="#444" stroke-width="0.9" fill="none"/>
<line x1="144.7" y1="354.0" x2="144.7" y2="357.20000000000005" stroke="#444" stroke-width="0.9"/>
<rect x="175.2" y="360.6" width="19.2" height="14.6" fill="#fbbf72" stroke="#eb9a2c" stroke-width="1" rx="0"/>
<rect x="199.2" y="360.6" width="19" height="14.6" fill="#fbbf72" stroke="#eb9a2c" stroke-width="1" rx="0"/>
<text x="184.8" y="370.6" font-size="6.8" fill="#3b2a12" stroke="#3b2a12" text-anchor="middle" textLength="15.6" lengthAdjust="spacingAndGlyphs">HBA2</text>
<text x="208.7" y="370.6" font-size="6.8" fill="#3b2a12" stroke="#3b2a12" text-anchor="middle" textLength="15.6" lengthAdjust="spacingAndGlyphs">HBA1</text>
<path d="M 176 360.6 L 176 355.2 L 182.2 355.2" stroke="#222" stroke-width="0.9" fill="none"/>
<polygon points="184.39999999999998,355.2 181.6,353.4 181.6,357.0" fill="#222"/>
<path d="M 200 360.6 L 200 355.2 L 206.2 355.2" stroke="#222" stroke-width="0.9" fill="none"/>
<polygon points="208.39999999999998,355.2 205.6,353.4 205.6,357.0" fill="#222"/>
<polygon points="35.83,390.29 36.17,389.25 36.49,388.19 36.79,387.14 37.09,386.08 37.39,385.02 37.69,383.96 37.76,382.86 37.79,381.74 37.81,380.62 37.85,379.51 37.75,379.49 37.33,380.52 36.88,381.55 36.45,382.57 36.06,383.61 35.90,384.70 35.73,385.78 35.57,386.87 35.41,387.96 35.26,389.05 35.15,390.15" fill="#a3102e"/><polygon points="32.45,386.35 33.76,385.99 35.04,385.59 36.31,385.18 37.58,384.75 38.85,384.32 40.09,383.82 41.20,383.04 42.31,382.25 43.42,381.44 44.52,380.65 44.48,380.55 43.15,380.84 41.81,381.12 40.48,381.42 39.16,381.72 37.96,382.30 36.79,382.96 35.62,383.62 34.46,384.29 33.30,384.97 32.17,385.71" fill="#a3102e"/><circle cx="30.60" cy="386.40" r="1.75" fill="none" stroke="#c4486a" stroke-width="0.85"/><circle cx="35.00" cy="391.90" r="1.75" fill="none" stroke="#c4486a" stroke-width="0.85"/>
<text x="41" y="395.6" font-size="6.6" fill="#383838" stroke="#383838" text-anchor="start" textLength="6.7" lengthAdjust="spacingAndGlyphs">R2</text>
<polygon points="88.70,390.37 89.06,389.31 89.40,388.25 89.73,387.19 90.05,386.13 90.37,385.07 90.68,384.00 90.81,382.89 90.86,381.77 90.89,380.64 90.95,379.51 90.85,379.49 90.40,380.52 89.93,381.55 89.47,382.58 89.08,383.63 88.89,384.72 88.70,385.81 88.51,386.91 88.33,388.00 88.16,389.10 88.02,390.21" fill="#13603f"/><polygon points="85.35,385.91 86.71,385.60 88.05,385.24 89.38,384.87 90.70,384.48 92.03,384.10 93.29,383.54 94.48,382.81 95.66,382.06 96.84,381.30 98.02,380.55 97.98,380.45 96.61,380.72 95.23,380.98 93.86,381.25 92.49,381.52 91.19,381.99 89.96,382.62 88.73,383.25 87.51,383.89 86.29,384.55 85.09,385.26" fill="#13603f"/><circle cx="83.50" cy="385.90" r="1.75" fill="none" stroke="#3f7f66" stroke-width="0.85"/><circle cx="88.00" cy="392.00" r="1.75" fill="none" stroke="#3f7f66" stroke-width="0.85"/>
<text x="93.8" y="392.8" font-size="6.6" fill="#383838" stroke="#383838" text-anchor="start" textLength="18.4" lengthAdjust="spacingAndGlyphs">NPRL3</text>
<polygon points="133.30,351.84 132.86,352.51 132.45,353.19 132.05,353.88 131.66,354.57 131.27,355.26 130.92,355.97 130.77,356.77 130.63,357.57 130.50,358.38 130.35,359.18 130.45,359.22 130.94,358.58 131.46,357.94 131.96,357.30 132.46,356.66 132.75,355.92 133.01,355.17 133.26,354.41 133.50,353.66 133.74,352.90 133.94,352.12" fill="#1d3e6b"/><polygon points="128.85,348.89 128.17,350.09 127.54,351.31 126.93,352.54 126.32,353.77 125.73,355.01 125.16,356.25 124.94,357.63 124.74,359.01 124.55,360.40 124.35,361.78 124.45,361.82 125.21,360.64 125.97,359.47 126.72,358.29 127.46,357.11 127.85,355.80 128.21,354.48 128.56,353.15 128.91,351.82 129.23,350.49 129.51,349.13" fill="#1d3e6b"/><circle cx="128.80" cy="347.30" r="1.75" fill="none" stroke="#3a5a82" stroke-width="0.85"/><circle cx="135.00" cy="350.90" r="1.75" fill="none" stroke="#3a5a82" stroke-width="0.85"/>
<text x="137.8" y="349.6" font-size="6.6" fill="#383838" stroke="#383838" text-anchor="start" textLength="10.2" lengthAdjust="spacingAndGlyphs">622</text>
<polygon points="136.81,388.85 136.92,387.80 137.00,386.74 137.07,385.69 137.13,384.63 137.19,383.57 137.25,382.52 137.23,381.46 136.98,380.41 136.71,379.35 136.45,378.30 136.35,378.30 136.10,379.36 135.85,380.41 135.61,381.47 135.60,382.53 135.67,383.58 135.74,384.64 135.82,385.69 135.90,386.75 135.99,387.80 136.11,388.86" fill="#1d3e6b"/><polygon points="140.89,384.65 139.99,383.72 139.06,382.83 138.11,381.95 137.16,381.08 136.21,380.21 135.26,379.35 134.06,378.81 132.86,378.29 131.64,377.77 130.43,377.26 130.37,377.34 131.21,378.35 132.06,379.37 132.91,380.37 133.77,381.35 134.87,382.02 135.97,382.68 137.08,383.34 138.20,383.99 139.32,384.62 140.47,385.21" fill="#1d3e6b"/><circle cx="142.30" cy="385.60" r="1.75" fill="none" stroke="#3a5a82" stroke-width="0.85"/><circle cx="136.60" cy="390.60" r="1.75" fill="none" stroke="#3a5a82" stroke-width="0.85"/>
<text x="145.4" y="393.4" font-size="6.6" fill="#383838" stroke="#383838" text-anchor="start" textLength="10.3" lengthAdjust="spacingAndGlyphs">245</text>
<path d="M 48.5 351.4 C 64 318, 118 298, 138.4 344" stroke="#151515" stroke-width="1.05" fill="none" stroke-dasharray="2 1.5"/>
<path d="M 89.7 350.3 C 97 336, 125 324, 138.4 344.4" stroke="#151515" stroke-width="1.05" fill="none" stroke-dasharray="2 1.5"/>
<path d="M 48.5 403 C 65 430.5, 125 430.5, 141.1 397.7" stroke="#151515" stroke-width="1.05" fill="none" stroke-dasharray="2 1.5"/>
<path d="M 94 396.6 C 101 411.5, 132 411.5, 141.1 398.1" stroke="#151515" stroke-width="1.05" fill="none" stroke-dasharray="2 1.5"/>
<line x1="230" y1="365" x2="256.67042707507005" y2="356.9551498658805" stroke="#111" stroke-width="1.1"/>
<polygon points="260.50,355.80 256.83,359.21 255.56,354.99" fill="#111"/>
<line x1="230" y1="372.5" x2="256.7027841825016" y2="381.34256131945136" stroke="#111" stroke-width="1.1"/>
<polygon points="260.50,382.60 255.54,383.27 256.92,379.10" fill="#111"/>
<text x="273" y="354.3" font-size="6.6" fill="#383838" stroke="#383838" text-anchor="start" textLength="24" lengthAdjust="spacingAndGlyphs">Del2Rec</text>
<text x="273" y="362.2" font-size="6.6" fill="#383838" stroke="#383838" text-anchor="start" textLength="55.8" lengthAdjust="spacingAndGlyphs">NPRL3 - 245 or 622</text>
<text x="273" y="383.2" font-size="6.6" fill="#383838" stroke="#383838" text-anchor="start" textLength="24" lengthAdjust="spacingAndGlyphs">Del2Rec</text>
<text x="273" y="391.3" font-size="6.6" fill="#383838" stroke="#383838" text-anchor="start" textLength="44" lengthAdjust="spacingAndGlyphs">R2 - 245 or 622</text>
<line x1="410" y1="355.9" x2="509.4" y2="355.9" stroke="#0a0a0a" stroke-width="2"/>
<rect x="332.3" y="351.2" width="78.3" height="8.6" fill="#d5dcb6" stroke="#b6c293" stroke-width="0.7" rx="0"/>
<rect x="349.6" y="350.6" width="14.2" height="10.2" fill="#ef8a86" stroke="#d8343a" stroke-width="1" rx="2"/>
<text x="356.7" y="358.3" font-size="6.8" fill="#4a1e1e" stroke="#4a1e1e" text-anchor="middle" textLength="8" lengthAdjust="spacingAndGlyphs">R2</text>
<text x="376" y="358.3" font-size="6.8" fill="#2e3322" stroke="#2e3322" text-anchor="start" textLength="19.2" lengthAdjust="spacingAndGlyphs">NPRL3</text>
<path d="M 409.8 351.2 L 409.8 345.6 L 404.4 345.6" stroke="#222" stroke-width="0.9" fill="none"/>
<polygon points="402.2,345.6 405.0,343.8 405.0,347.40000000000003" fill="#222"/>
<rect x="415.2" y="350.8" width="16.6" height="10.2" fill="#7d8fc4" stroke="#37518f" stroke-width="1" rx="0"/>
<text x="423.5" y="358.6" font-size="6.8" fill="#1d2540" stroke="#1d2540" text-anchor="middle" textLength="11.6" lengthAdjust="spacingAndGlyphs">HBZ</text>
<path d="M 416 350.8 L 416 345.6 L 421.6 345.6" stroke="#222" stroke-width="0.9" fill="none"/>
<polygon points="423.8,345.6 421.0,343.8 421.0,347.40000000000003" fill="#222"/>
<rect x="455.2" y="350.8" width="18.6" height="10.2" fill="#fbbf72" stroke="#eb9a2c" stroke-width="1" rx="0"/>
<rect x="479.8" y="350.8" width="18.8" height="10.2" fill="#fbbf72" stroke="#eb9a2c" stroke-width="1" rx="0"/>
<text x="464.5" y="358.6" font-size="6.8" fill="#3b2a12" stroke="#3b2a12" text-anchor="middle" textLength="16" lengthAdjust="spacingAndGlyphs">HBA2</text>
<text x="489.2" y="358.6" font-size="6.8" fill="#3b2a12" stroke="#3b2a12" text-anchor="middle" textLength="16" lengthAdjust="spacingAndGlyphs">HBA1</text>
<path d="M 456 350.8 L 456 345.6 L 462 345.6" stroke="#222" stroke-width="0.9" fill="none"/>
<polygon points="464.2,345.6 461.4,343.8 461.4,347.40000000000003" fill="#222"/>
<path d="M 480.6 350.8 L 480.6 345.6 L 486.6 345.6" stroke="#222" stroke-width="0.9" fill="none"/>
<polygon points="488.8,345.6 486.0,343.8 486.0,347.40000000000003" fill="#222"/>
<line x1="363" y1="384.8" x2="509.4" y2="384.8" stroke="#0a0a0a" stroke-width="2"/>
<rect x="332.3" y="380.4" width="17.3" height="8.6" fill="#d5dcb6" stroke="#b6c293" stroke-width="0.7" rx="0"/>
<rect x="349.6" y="379.6" width="14.2" height="10.4" fill="#ef8a86" stroke="#d8343a" stroke-width="1" rx="2"/>
<text x="356.7" y="387.6" font-size="6.8" fill="#4a1e1e" stroke="#4a1e1e" text-anchor="middle" textLength="8" lengthAdjust="spacingAndGlyphs">R2</text>
<rect x="367.4" y="378.6" width="17.2" height="11.4" fill="#7d8fc4" stroke="#37518f" stroke-width="1" rx="0"/>
<text x="376" y="387.8" font-size="6.8" fill="#1d2540" stroke="#1d2540" text-anchor="middle" textLength="11.6" lengthAdjust="spacingAndGlyphs">HBZ</text>
<path d="M 368.6 378.6 L 368.6 374.2 L 374.6 374.2" stroke="#222" stroke-width="0.9" fill="none"/>
<polygon points="376.8,374.2 374.0,372.4 374.0,376.0" fill="#222"/>
<rect x="406.8" y="378.8" width="20.2" height="11" fill="#fbbf72" stroke="#eb9a2c" stroke-width="1" rx="0"/>
<rect x="432.6" y="378.8" width="20.2" height="11" fill="#fbbf72" stroke="#eb9a2c" stroke-width="1" rx="0"/>
<text x="416.9" y="387.6" font-size="6.8" fill="#3b2a12" stroke="#3b2a12" text-anchor="middle" textLength="15.6" lengthAdjust="spacingAndGlyphs">HBA2</text>
<text x="442.7" y="387.6" font-size="6.8" fill="#3b2a12" stroke="#3b2a12" text-anchor="middle" textLength="15.6" lengthAdjust="spacingAndGlyphs">HBA1</text>
<path d="M 407.6 378.8 L 407.6 374.2 L 413.6 374.2" stroke="#222" stroke-width="0.9" fill="none"/>
<polygon points="415.8,374.2 413.0,372.4 413.0,376.0" fill="#222"/>
<path d="M 433.4 378.8 L 433.4 374.2 L 439.4 374.2" stroke="#222" stroke-width="0.9" fill="none"/>
<polygon points="441.59999999999997,374.2 438.79999999999995,372.4 438.79999999999995,376.0" fill="#222"/>
<text x="7.4" y="448.4" font-size="10.6" fill="#111" stroke="#111" text-anchor="start" font-weight="bold" style="stroke-width:0.45px">H</text>
<text x="90.7" y="448.8" font-size="9" fill="#383838" stroke="#383838" text-anchor="middle">Clonal</text>
<text x="90.7" y="458.9" font-size="9" fill="#383838" stroke="#383838" text-anchor="middle">proliferating</text>
<line x1="35.5" y1="465.5" x2="35.5" y2="541.9" stroke="#1a1a1a" stroke-width="1.3"/>
<line x1="32.3" y1="541.3" x2="35.5" y2="541.3" stroke="#1a1a1a" stroke-width="1.1"/>
<text x="29.699999999999996" y="543.627" font-size="6.5" fill="#383838" stroke="#383838" text-anchor="end" textLength="3.83" lengthAdjust="spacingAndGlyphs">0</text>
<line x1="32.3" y1="529.1166666666667" x2="35.5" y2="529.1166666666667" stroke="#1a1a1a" stroke-width="1.1"/>
<text x="29.699999999999996" y="531.4436666666667" font-size="6.5" fill="#383838" stroke="#383838" text-anchor="end" textLength="7.66" lengthAdjust="spacingAndGlyphs">10</text>
<line x1="32.3" y1="516.9333333333333" x2="35.5" y2="516.9333333333333" stroke="#1a1a1a" stroke-width="1.1"/>
<text x="29.699999999999996" y="519.2603333333333" font-size="6.5" fill="#383838" stroke="#383838" text-anchor="end" textLength="7.66" lengthAdjust="spacingAndGlyphs">20</text>
<line x1="32.3" y1="504.75" x2="35.5" y2="504.75" stroke="#1a1a1a" stroke-width="1.1"/>
<text x="29.699999999999996" y="507.077" font-size="6.5" fill="#383838" stroke="#383838" text-anchor="end" textLength="7.66" lengthAdjust="spacingAndGlyphs">30</text>
<line x1="32.3" y1="492.56666666666666" x2="35.5" y2="492.56666666666666" stroke="#1a1a1a" stroke-width="1.1"/>
<text x="29.699999999999996" y="494.89366666666666" font-size="6.5" fill="#383838" stroke="#383838" text-anchor="end" textLength="7.66" lengthAdjust="spacingAndGlyphs">40</text>
<line x1="32.3" y1="480.3833333333333" x2="35.5" y2="480.3833333333333" stroke="#1a1a1a" stroke-width="1.1"/>
<text x="29.699999999999996" y="482.7103333333333" font-size="6.5" fill="#383838" stroke="#383838" text-anchor="end" textLength="7.66" lengthAdjust="spacingAndGlyphs">50</text>
<line x1="32.3" y1="468.2" x2="35.5" y2="468.2" stroke="#1a1a1a" stroke-width="1.1"/>
<text x="29.699999999999996" y="470.527" font-size="6.5" fill="#383838" stroke="#383838" text-anchor="end" textLength="7.66" lengthAdjust="spacingAndGlyphs">60</text>
<line x1="35.0" y1="541.3" x2="145" y2="541.3" stroke="#1a1a1a" stroke-width="1.3"/>
<text x="17.2" y="504.6" font-size="8.5" fill="#383838" stroke="#383838" text-anchor="middle" textLength="22.6" lengthAdjust="spacingAndGlyphs" transform="rotate(-90 17.2 504.6)">HBZ (%)</text>
<line x1="49.4" y1="541.3" x2="49.4" y2="544.3" stroke="#1a1a1a" stroke-width="1"/>
<rect x="43.15" y="537.645" width="12.5" height="3.6549999999999985" fill="#1f4f8e" stroke="none" stroke-width="1" rx="0"/>
<line x1="49.4" y1="533.7463333333333" x2="49.4" y2="537.645" stroke="#222" stroke-width="0.95"/>
<line x1="46.3" y1="533.7463333333333" x2="52.5" y2="533.7463333333333" stroke="#222" stroke-width="0.95"/>
<circle cx="49.4" cy="533.99" r="1.15" fill="#111" stroke="none" stroke-width="1"/>
<text x="48.8" y="550.6999999999999" font-size="6.9" fill="#383838" stroke="#383838" text-anchor="end" textLength="9.44" lengthAdjust="spacingAndGlyphs" transform="rotate(-45 48.8 550.6999999999999)">WT</text>
<line x1="70" y1="541.3" x2="70" y2="544.3" stroke="#1a1a1a" stroke-width="1"/>
<rect x="63.75" y="530.4568333333333" width="12.5" height="10.843166666666663" fill="#1f4f8e" stroke="none" stroke-width="1" rx="0"/>
<line x1="70" y1="523.9996666666666" x2="70" y2="530.4568333333333" stroke="#222" stroke-width="0.95"/>
<line x1="66.9" y1="523.9996666666666" x2="73.1" y2="523.9996666666666" stroke="#222" stroke-width="0.95"/>
<line x1="70" y1="530.4568333333333" x2="70" y2="536.914" stroke="#0c1c36" stroke-width="0.95"/>
<line x1="66.9" y1="536.914" x2="73.1" y2="536.914" stroke="#0c1c36" stroke-width="0.95"/>
<circle cx="70" cy="519.9791666666666" r="1.15" fill="#111" stroke="none" stroke-width="1"/>
<circle cx="70" cy="527.2891666666666" r="1.15" fill="#111" stroke="none" stroke-width="1"/>
<text x="71.8" y="550.6999999999999" font-size="6.9" fill="#383838" stroke="#383838" text-anchor="end" textLength="10.13" lengthAdjust="spacingAndGlyphs" transform="rotate(-45 71.8 550.6999999999999)">245</text>
<line x1="90.75" y1="541.3" x2="90.75" y2="544.3" stroke="#1a1a1a" stroke-width="1"/>
<rect x="84.5" y="536.4266666666666" width="12.5" height="4.873333333333331" fill="#1f4f8e" stroke="none" stroke-width="1" rx="0"/>
<line x1="90.75" y1="532.7716666666666" x2="90.75" y2="536.4266666666666" stroke="#222" stroke-width="0.95"/>
<line x1="87.65" y1="532.7716666666666" x2="93.85" y2="532.7716666666666" stroke="#222" stroke-width="0.95"/>
<line x1="90.75" y1="536.4266666666666" x2="90.75" y2="540.0816666666666" stroke="#0c1c36" stroke-width="0.95"/>
<line x1="87.65" y1="540.0816666666666" x2="93.85" y2="540.0816666666666" stroke="#0c1c36" stroke-width="0.95"/>
<rect x="89.55" y="530.5969999999999" width="2.4" height="2.4" fill="#111" stroke="none" stroke-width="1" rx="0"/>
<circle cx="93.75" cy="536.4266666666666" r="1.15" fill="#111" stroke="none" stroke-width="1"/>
<text x="92.3" y="550.6999999999999" font-size="6.9" fill="#383838" stroke="#383838" text-anchor="end" textLength="10.13" lengthAdjust="spacingAndGlyphs" transform="rotate(-45 92.3 550.6999999999999)">622</text>
<line x1="111.25" y1="541.3" x2="111.25" y2="544.3" stroke="#1a1a1a" stroke-width="1"/>
<rect x="105.0" y="511.4508333333333" width="12.5" height="29.849166666666655" fill="#1f4f8e" stroke="none" stroke-width="1" rx="0"/>
<line x1="111.25" y1="497.43999999999994" x2="111.25" y2="511.4508333333333" stroke="#222" stroke-width="0.95"/>
<line x1="108.15" y1="497.43999999999994" x2="114.35" y2="497.43999999999994" stroke="#222" stroke-width="0.95"/>
<line x1="111.25" y1="511.4508333333333" x2="111.25" y2="525.4616666666666" stroke="#0c1c36" stroke-width="0.95"/>
<line x1="108.15" y1="525.4616666666666" x2="114.35" y2="525.4616666666666" stroke="#0c1c36" stroke-width="0.95"/>
<circle cx="111.25" cy="485.25666666666666" r="1.35" fill="#fff" stroke="#111" stroke-width="0.85"/>
<circle cx="111.25" cy="520.5883333333333" r="1.15" fill="#111" stroke="none" stroke-width="1"/>
<circle cx="111.25" cy="526.68" r="1.15" fill="#111" stroke="none" stroke-width="1"/>
<text x="112.8" y="550.6999999999999" font-size="6.9" fill="#383838" stroke="#383838" text-anchor="end" textLength="10.13" lengthAdjust="spacingAndGlyphs" transform="rotate(-45 112.8 550.6999999999999)">245</text>
<line x1="131.75" y1="541.3" x2="131.75" y2="544.3" stroke="#1a1a1a" stroke-width="1"/>
<rect x="125.5" y="496.22166666666664" width="12.5" height="45.07833333333331" fill="#1f4f8e" stroke="none" stroke-width="1" rx="0"/>
<line x1="131.75" y1="483.4291666666667" x2="131.75" y2="496.22166666666664" stroke="#222" stroke-width="0.95"/>
<line x1="128.65" y1="483.4291666666667" x2="134.85" y2="483.4291666666667" stroke="#222" stroke-width="0.95"/>
<line x1="131.75" y1="496.22166666666664" x2="131.75" y2="509.01416666666665" stroke="#0c1c36" stroke-width="0.95"/>
<line x1="128.65" y1="509.01416666666665" x2="134.85" y2="509.01416666666665" stroke="#0c1c36" stroke-width="0.95"/>
<circle cx="131.75" cy="473.0733333333333" r="1.15" fill="#111" stroke="none" stroke-width="1"/>
<circle cx="131.75" cy="495.00333333333333" r="1.15" fill="#111" stroke="none" stroke-width="1"/>
<circle cx="131.75" cy="509.6233333333333" r="1.15" fill="#111" stroke="none" stroke-width="1"/>
<text x="132.8" y="550.6999999999999" font-size="6.9" fill="#383838" stroke="#383838" text-anchor="end" textLength="10.13" lengthAdjust="spacingAndGlyphs" transform="rotate(-45 132.8 550.6999999999999)">622</text>
<line x1="57.5" y1="562.4" x2="92.5" y2="562.4" stroke="#222" stroke-width="0.9"/>
<text x="75.6" y="571.4" font-size="6.8" fill="#383838" stroke="#383838" text-anchor="middle" textLength="19.29" lengthAdjust="spacingAndGlyphs">NPRL3</text>
<line x1="102.5" y1="562.4" x2="137.5" y2="562.4" stroke="#222" stroke-width="0.9"/>
<text x="120.6" y="571.4" font-size="6.8" fill="#383838" stroke="#383838" text-anchor="middle" textLength="7.65" lengthAdjust="spacingAndGlyphs">R2</text>
<text x="161.3" y="448.4" font-size="10.6" fill="#111" stroke="#111" text-anchor="start" font-weight="bold" style="stroke-width:0.45px">I</text>
<text x="245.2" y="448.8" font-size="9" fill="#383838" stroke="#383838" text-anchor="middle">Clonal</text>
<text x="245.2" y="458.9" font-size="9" fill="#383838" stroke="#383838" text-anchor="middle">differentiated</text>
<line x1="190.0" y1="465.5" x2="190.0" y2="541.9" stroke="#1a1a1a" stroke-width="1.3"/>
<line x1="186.8" y1="541.3" x2="190.0" y2="541.3" stroke="#1a1a1a" stroke-width="1.1"/>
<text x="184.20000000000002" y="543.627" font-size="6.5" fill="#383838" stroke="#383838" text-anchor="end" textLength="3.83" lengthAdjust="spacingAndGlyphs">0</text>
<line x1="186.8" y1="529.1166666666667" x2="190.0" y2="529.1166666666667" stroke="#1a1a1a" stroke-width="1.1"/>
<text x="184.20000000000002" y="531.4436666666667" font-size="6.5" fill="#383838" stroke="#383838" text-anchor="end" textLength="7.66" lengthAdjust="spacingAndGlyphs">10</text>
<line x1="186.8" y1="516.9333333333333" x2="190.0" y2="516.9333333333333" stroke="#1a1a1a" stroke-width="1.1"/>
<text x="184.20000000000002" y="519.2603333333333" font-size="6.5" fill="#383838" stroke="#383838" text-anchor="end" textLength="7.66" lengthAdjust="spacingAndGlyphs">20</text>
<line x1="186.8" y1="504.75" x2="190.0" y2="504.75" stroke="#1a1a1a" stroke-width="1.1"/>
<text x="184.20000000000002" y="507.077" font-size="6.5" fill="#383838" stroke="#383838" text-anchor="end" textLength="7.66" lengthAdjust="spacingAndGlyphs">30</text>
<line x1="186.8" y1="492.56666666666666" x2="190.0" y2="492.56666666666666" stroke="#1a1a1a" stroke-width="1.1"/>
<text x="184.20000000000002" y="494.89366666666666" font-size="6.5" fill="#383838" stroke="#383838" text-anchor="end" textLength="7.66" lengthAdjust="spacingAndGlyphs">40</text>
<line x1="186.8" y1="480.3833333333333" x2="190.0" y2="480.3833333333333" stroke="#1a1a1a" stroke-width="1.1"/>
<text x="184.20000000000002" y="482.7103333333333" font-size="6.5" fill="#383838" stroke="#383838" text-anchor="end" textLength="7.66" lengthAdjust="spacingAndGlyphs">50</text>
<line x1="186.8" y1="468.2" x2="190.0" y2="468.2" stroke="#1a1a1a" stroke-width="1.1"/>
<text x="184.20000000000002" y="470.527" font-size="6.5" fill="#383838" stroke="#383838" text-anchor="end" textLength="7.66" lengthAdjust="spacingAndGlyphs">60</text>
<line x1="189.5" y1="541.3" x2="300" y2="541.3" stroke="#1a1a1a" stroke-width="1.3"/>
<text x="171.7" y="504.3" font-size="8.5" fill="#383838" stroke="#383838" text-anchor="middle" textLength="22.6" lengthAdjust="spacingAndGlyphs" transform="rotate(-90 171.7 504.3)">HBZ (%)</text>
<line x1="203.6" y1="541.3" x2="203.6" y2="544.3" stroke="#1a1a1a" stroke-width="1"/>
<rect x="199.85" y="540.5" width="7.5" height="0.8" fill="#1f4f8e" stroke="none" stroke-width="1" rx="0"/>
<circle cx="201.1" cy="540.9345" r="1.15" fill="#111" stroke="none" stroke-width="1"/>
<circle cx="206.1" cy="540.3253333333333" r="1.15" fill="#111" stroke="none" stroke-width="1"/>
<text x="200.60000000000002" y="550.6999999999999" font-size="6.9" fill="#383838" stroke="#383838" text-anchor="end" textLength="9.44" lengthAdjust="spacingAndGlyphs" transform="rotate(-45 200.60000000000002 550.6999999999999)">WT</text>
<line x1="224.6" y1="541.3" x2="224.6" y2="544.3" stroke="#1a1a1a" stroke-width="1"/>
<rect x="218.1" y="533.0153333333333" width="13" height="8.284666666666663" fill="#1f4f8e" stroke="none" stroke-width="1" rx="0"/>
<line x1="224.6" y1="528.3856666666667" x2="224.6" y2="533.0153333333333" stroke="#222" stroke-width="0.95"/>
<line x1="221.5" y1="528.3856666666667" x2="227.7" y2="528.3856666666667" stroke="#222" stroke-width="0.95"/>
<line x1="224.6" y1="533.0153333333333" x2="224.6" y2="537.645" stroke="#0c1c36" stroke-width="0.95"/>
<line x1="221.5" y1="537.645" x2="227.7" y2="537.645" stroke="#0c1c36" stroke-width="0.95"/>
<circle cx="224.6" cy="521.8066666666666" r="1.15" fill="#111" stroke="none" stroke-width="1"/>
<circle cx="224.6" cy="536.4266666666666" r="1.15" fill="#111" stroke="none" stroke-width="1"/>
<text x="224.3" y="550.6999999999999" font-size="6.9" fill="#383838" stroke="#383838" text-anchor="end" textLength="10.13" lengthAdjust="spacingAndGlyphs" transform="rotate(-45 224.3 550.6999999999999)">245</text>
<line x1="245.3" y1="541.3" x2="245.3" y2="544.3" stroke="#1a1a1a" stroke-width="1"/>
<rect x="238.8" y="536.6703333333332" width="13" height="4.629666666666664" fill="#1f4f8e" stroke="none" stroke-width="1" rx="0"/>
<line x1="245.3" y1="533.99" x2="245.3" y2="536.6703333333332" stroke="#222" stroke-width="0.95"/>
<line x1="242.20000000000002" y1="533.99" x2="248.4" y2="533.99" stroke="#222" stroke-width="0.95"/>
<line x1="245.3" y1="536.6703333333332" x2="245.3" y2="539.3506666666666" stroke="#0c1c36" stroke-width="0.95"/>
<line x1="242.20000000000002" y1="539.3506666666666" x2="248.4" y2="539.3506666666666" stroke="#0c1c36" stroke-width="0.95"/>
<circle cx="245.3" cy="532.7716666666666" r="1.15" fill="#111" stroke="none" stroke-width="1"/>
<circle cx="245.3" cy="538.8633333333333" r="1.15" fill="#111" stroke="none" stroke-width="1"/>
<text x="244.3" y="550.6999999999999" font-size="6.9" fill="#383838" stroke="#383838" text-anchor="end" textLength="10.13" lengthAdjust="spacingAndGlyphs" transform="rotate(-45 244.3 550.6999999999999)">622</text>
<line x1="265.8" y1="541.3" x2="265.8" y2="544.3" stroke="#1a1a1a" stroke-width="1"/>
<rect x="259.55" y="505.9683333333333" width="12.5" height="35.33166666666665" fill="#1f4f8e" stroke="none" stroke-width="1" rx="0"/>
<line x1="265.8" y1="494.39416666666665" x2="265.8" y2="505.9683333333333" stroke="#222" stroke-width="0.95"/>
<line x1="262.7" y1="494.39416666666665" x2="268.90000000000003" y2="494.39416666666665" stroke="#222" stroke-width="0.95"/>
<line x1="265.8" y1="505.9683333333333" x2="265.8" y2="517.5425" stroke="#0c1c36" stroke-width="0.95"/>
<line x1="262.7" y1="517.5425" x2="268.90000000000003" y2="517.5425" stroke="#0c1c36" stroke-width="0.95"/>
<circle cx="265.8" cy="490.13" r="1.35" fill="#fff" stroke="#111" stroke-width="0.85"/>
<circle cx="265.8" cy="502.3133333333333" r="1.15" fill="#111" stroke="none" stroke-width="1"/>
<circle cx="265.8" cy="524.2433333333333" r="1.15" fill="#111" stroke="none" stroke-width="1"/>
<text x="265.1" y="550.6999999999999" font-size="6.9" fill="#383838" stroke="#383838" text-anchor="end" textLength="10.13" lengthAdjust="spacingAndGlyphs" transform="rotate(-45 265.1 550.6999999999999)">245</text>
<line x1="286.5" y1="541.3" x2="286.5" y2="544.3" stroke="#1a1a1a" stroke-width="1"/>
<rect x="280.0" y="515.7149999999999" width="13" height="25.58499999999999" fill="#1f4f8e" stroke="none" stroke-width="1" rx="0"/>
<line x1="286.5" y1="512.06" x2="286.5" y2="515.7149999999999" stroke="#222" stroke-width="0.95"/>
<line x1="283.4" y1="512.06" x2="289.6" y2="512.06" stroke="#222" stroke-width="0.95"/>
<line x1="286.5" y1="515.7149999999999" x2="286.5" y2="519.37" stroke="#0c1c36" stroke-width="0.95"/>
<line x1="283.4" y1="519.37" x2="289.6" y2="519.37" stroke="#0c1c36" stroke-width="0.95"/>
<circle cx="286.5" cy="512.06" r="1.15" fill="#111" stroke="none" stroke-width="1"/>
<circle cx="286.5" cy="514.4966666666667" r="1.15" fill="#111" stroke="none" stroke-width="1"/>
<circle cx="286.5" cy="516.9333333333333" r="1.15" fill="#111" stroke="none" stroke-width="1"/>
<text x="286.8" y="550.6999999999999" font-size="6.9" fill="#383838" stroke="#383838" text-anchor="end" textLength="10.13" lengthAdjust="spacingAndGlyphs" transform="rotate(-45 286.8 550.6999999999999)">622</text>
<line x1="211.2" y1="562.4" x2="245.5" y2="562.4" stroke="#222" stroke-width="0.9"/>
<text x="228.95" y="571.4" font-size="6.8" fill="#383838" stroke="#383838" text-anchor="middle" textLength="19.29" lengthAdjust="spacingAndGlyphs">NPRL3</text>
<line x1="255.5" y1="562.4" x2="290" y2="562.4" stroke="#222" stroke-width="0.9"/>
<text x="273.35" y="571.4" font-size="6.8" fill="#383838" stroke="#383838" text-anchor="middle" textLength="7.65" lengthAdjust="spacingAndGlyphs">R2</text>
<text x="315.4" y="448.4" font-size="10.6" fill="#111" stroke="#111" text-anchor="start" font-weight="bold" style="stroke-width:0.45px">J</text>
<text x="375.4" y="448.8" font-size="9" fill="#383838" stroke="#383838" text-anchor="middle">Clonal</text>
<text x="375.4" y="458.9" font-size="9" fill="#383838" stroke="#383838" text-anchor="middle">proliferating</text>
<line x1="344.4" y1="463.90000000000003" x2="344.4" y2="541.85" stroke="#1a1a1a" stroke-width="1.3"/>
<line x1="341.2" y1="541.25" x2="344.4" y2="541.25" stroke="#1a1a1a" stroke-width="1.1"/>
<text x="338.59999999999997" y="543.577" font-size="6.5" fill="#383838" stroke="#383838" text-anchor="end" textLength="3.83" lengthAdjust="spacingAndGlyphs">0</text>
<line x1="341.2" y1="528.8083333333334" x2="344.4" y2="528.8083333333334" stroke="#1a1a1a" stroke-width="1.1"/>
<text x="338.59999999999997" y="531.1353333333334" font-size="6.5" fill="#383838" stroke="#383838" text-anchor="end" textLength="3.83" lengthAdjust="spacingAndGlyphs">5</text>
<line x1="341.2" y1="516.3666666666667" x2="344.4" y2="516.3666666666667" stroke="#1a1a1a" stroke-width="1.1"/>
<text x="338.59999999999997" y="518.6936666666667" font-size="6.5" fill="#383838" stroke="#383838" text-anchor="end" textLength="7.66" lengthAdjust="spacingAndGlyphs">10</text>
<line x1="341.2" y1="503.925" x2="344.4" y2="503.925" stroke="#1a1a1a" stroke-width="1.1"/>
<text x="338.59999999999997" y="506.252" font-size="6.5" fill="#383838" stroke="#383838" text-anchor="end" textLength="7.66" lengthAdjust="spacingAndGlyphs">15</text>
<line x1="341.2" y1="491.48333333333335" x2="344.4" y2="491.48333333333335" stroke="#1a1a1a" stroke-width="1.1"/>
<text x="338.59999999999997" y="493.81033333333335" font-size="6.5" fill="#383838" stroke="#383838" text-anchor="end" textLength="7.66" lengthAdjust="spacingAndGlyphs">20</text>
<line x1="341.2" y1="479.0416666666667" x2="344.4" y2="479.0416666666667" stroke="#1a1a1a" stroke-width="1.1"/>
<text x="338.59999999999997" y="481.3686666666667" font-size="6.5" fill="#383838" stroke="#383838" text-anchor="end" textLength="7.66" lengthAdjust="spacingAndGlyphs">25</text>
<line x1="341.2" y1="466.6" x2="344.4" y2="466.6" stroke="#1a1a1a" stroke-width="1.1"/>
<text x="338.59999999999997" y="468.927" font-size="6.5" fill="#383838" stroke="#383838" text-anchor="end" textLength="7.66" lengthAdjust="spacingAndGlyphs">30</text>
<line x1="343.9" y1="541.25" x2="406.4" y2="541.25" stroke="#1a1a1a" stroke-width="1.3"/>
<text x="326.1" y="502.8" font-size="7.9" fill="#383838" stroke="#383838" text-anchor="middle" textLength="78.4" lengthAdjust="spacingAndGlyphs" transform="rotate(-90 326.1 502.8)">Fold change in HBZ mRNA</text>
<line x1="358.3" y1="541.25" x2="358.3" y2="544.25" stroke="#1a1a1a" stroke-width="1"/>
<rect x="351.90000000000003" y="539.2593333333333" width="12.8" height="1.990666666666666" fill="#1f4f8e" stroke="none" stroke-width="1" rx="0"/>
<text x="361.8" y="550.65" font-size="6.9" fill="#383838" stroke="#383838" text-anchor="end" textLength="9.44" lengthAdjust="spacingAndGlyphs" transform="rotate(-45 361.8 550.65)">WT</text>
<line x1="375" y1="541.25" x2="375" y2="544.25" stroke="#1a1a1a" stroke-width="1"/>
<rect x="368.7" y="502.1831666666667" width="12.6" height="39.066833333333314" fill="#1f4f8e" stroke="none" stroke-width="1" rx="0"/>
<line x1="375" y1="486.50666666666666" x2="375" y2="502.1831666666667" stroke="#222" stroke-width="0.95"/>
<line x1="371.9" y1="486.50666666666666" x2="378.1" y2="486.50666666666666" stroke="#222" stroke-width="0.95"/>
<line x1="375" y1="502.1831666666667" x2="375" y2="517.8596666666667" stroke="#0c1c36" stroke-width="0.95"/>
<line x1="371.9" y1="517.8596666666667" x2="378.1" y2="517.8596666666667" stroke="#0c1c36" stroke-width="0.95"/>
<circle cx="375" cy="484.2671666666667" r="1.35" fill="#fff" stroke="#111" stroke-width="0.85"/>
<circle cx="375" cy="489.2438333333333" r="1.15" fill="#111" stroke="none" stroke-width="1"/>
<circle cx="375" cy="529.306" r="1.15" fill="#111" stroke="none" stroke-width="1"/>
<text x="377.1" y="550.65" font-size="6.9" fill="#383838" stroke="#383838" text-anchor="end" textLength="10.13" lengthAdjust="spacingAndGlyphs" transform="rotate(-45 377.1 550.65)">245</text>
<line x1="392.1" y1="541.25" x2="392.1" y2="544.25" stroke="#1a1a1a" stroke-width="1"/>
<rect x="385.70000000000005" y="490.2391666666667" width="12.8" height="51.010833333333316" fill="#1f4f8e" stroke="none" stroke-width="1" rx="0"/>
<line x1="392.1" y1="479.0416666666667" x2="392.1" y2="490.2391666666667" stroke="#222" stroke-width="0.95"/>
<line x1="389.0" y1="479.0416666666667" x2="395.20000000000005" y2="479.0416666666667" stroke="#222" stroke-width="0.95"/>
<line x1="392.1" y1="490.2391666666667" x2="392.1" y2="501.43666666666667" stroke="#0c1c36" stroke-width="0.95"/>
<line x1="389.0" y1="501.43666666666667" x2="395.20000000000005" y2="501.43666666666667" stroke="#0c1c36" stroke-width="0.95"/>
<circle cx="392.1" cy="472.07433333333336" r="1.15" fill="#111" stroke="none" stroke-width="1"/>
<circle cx="392.1" cy="499.1971666666667" r="1.15" fill="#111" stroke="none" stroke-width="1"/>
<circle cx="392.1" cy="507.1598333333333" r="1.15" fill="#111" stroke="none" stroke-width="1"/>
<text x="394.40000000000003" y="550.65" font-size="6.9" fill="#383838" stroke="#383838" text-anchor="end" textLength="10.13" lengthAdjust="spacingAndGlyphs" transform="rotate(-45 394.40000000000003 550.65)">622</text>
<line x1="363.3" y1="562.4" x2="399" y2="562.4" stroke="#222" stroke-width="0.9"/>
<text x="381.75" y="571.4" font-size="6.8" fill="#383838" stroke="#383838" text-anchor="middle" textLength="7.65" lengthAdjust="spacingAndGlyphs">R2</text>
<text x="422.8" y="448.4" font-size="10.6" fill="#111" stroke="#111" text-anchor="start" font-weight="bold" style="stroke-width:0.45px">K</text>
<text x="480.1" y="448.8" font-size="9" fill="#383838" stroke="#383838" text-anchor="middle">Clonal</text>
<text x="480.1" y="458.9" font-size="9" fill="#383838" stroke="#383838" text-anchor="middle">differentiated</text>
<line x1="450.1" y1="463.90000000000003" x2="450.1" y2="541.85" stroke="#1a1a1a" stroke-width="1.3"/>
<line x1="446.90000000000003" y1="541.25" x2="450.1" y2="541.25" stroke="#1a1a1a" stroke-width="1.1"/>
<text x="444.3" y="543.577" font-size="6.5" fill="#383838" stroke="#383838" text-anchor="end" textLength="3.83" lengthAdjust="spacingAndGlyphs">0</text>
<line x1="446.90000000000003" y1="531.91875" x2="450.1" y2="531.91875" stroke="#1a1a1a" stroke-width="1.1"/>
<text x="444.3" y="534.24575" font-size="6.5" fill="#383838" stroke="#383838" text-anchor="end" textLength="3.83" lengthAdjust="spacingAndGlyphs">2</text>
<line x1="446.90000000000003" y1="522.5875" x2="450.1" y2="522.5875" stroke="#1a1a1a" stroke-width="1.1"/>
<text x="444.3" y="524.9145" font-size="6.5" fill="#383838" stroke="#383838" text-anchor="end" textLength="3.83" lengthAdjust="spacingAndGlyphs">4</text>
<line x1="446.90000000000003" y1="513.25625" x2="450.1" y2="513.25625" stroke="#1a1a1a" stroke-width="1.1"/>
<text x="444.3" y="515.58325" font-size="6.5" fill="#383838" stroke="#383838" text-anchor="end" textLength="3.83" lengthAdjust="spacingAndGlyphs">6</text>
<line x1="446.90000000000003" y1="503.925" x2="450.1" y2="503.925" stroke="#1a1a1a" stroke-width="1.1"/>
<text x="444.3" y="506.252" font-size="6.5" fill="#383838" stroke="#383838" text-anchor="end" textLength="3.83" lengthAdjust="spacingAndGlyphs">8</text>
<line x1="446.90000000000003" y1="494.59375" x2="450.1" y2="494.59375" stroke="#1a1a1a" stroke-width="1.1"/>
<text x="444.3" y="496.92075" font-size="6.5" fill="#383838" stroke="#383838" text-anchor="end" textLength="7.66" lengthAdjust="spacingAndGlyphs">10</text>
<line x1="446.90000000000003" y1="485.26250000000005" x2="450.1" y2="485.26250000000005" stroke="#1a1a1a" stroke-width="1.1"/>
<text x="444.3" y="487.58950000000004" font-size="6.5" fill="#383838" stroke="#383838" text-anchor="end" textLength="7.66" lengthAdjust="spacingAndGlyphs">12</text>
<line x1="446.90000000000003" y1="475.93125000000003" x2="450.1" y2="475.93125000000003" stroke="#1a1a1a" stroke-width="1.1"/>
<text x="444.3" y="478.25825000000003" font-size="6.5" fill="#383838" stroke="#383838" text-anchor="end" textLength="7.66" lengthAdjust="spacingAndGlyphs">14</text>
<line x1="446.90000000000003" y1="466.6" x2="450.1" y2="466.6" stroke="#1a1a1a" stroke-width="1.1"/>
<text x="444.3" y="468.927" font-size="6.5" fill="#383838" stroke="#383838" text-anchor="end" textLength="7.66" lengthAdjust="spacingAndGlyphs">16</text>
<line x1="449.6" y1="541.25" x2="505" y2="541.25" stroke="#1a1a1a" stroke-width="1.3"/>
<text x="432.8" y="502.8" font-size="7.9" fill="#383838" stroke="#383838" text-anchor="middle" textLength="78.5" lengthAdjust="spacingAndGlyphs" transform="rotate(-90 432.8 502.8)">Fold change in HBZ mRNA</text>
<line x1="468.45" y1="541.25" x2="468.45" y2="544.25" stroke="#1a1a1a" stroke-width="1"/>
<rect x="460.45" y="486.195625" width="16" height="55.054374999999986" fill="#1f4f8e" stroke="none" stroke-width="1" rx="0"/>
<line x1="468.45" y1="478.2640625" x2="468.45" y2="486.195625" stroke="#222" stroke-width="0.95"/>
<line x1="465.34999999999997" y1="478.2640625" x2="471.55" y2="478.2640625" stroke="#222" stroke-width="0.95"/>
<line x1="468.45" y1="486.195625" x2="468.45" y2="494.1271875" stroke="#0c1c36" stroke-width="0.95"/>
<line x1="465.34999999999997" y1="494.1271875" x2="471.55" y2="494.1271875" stroke="#0c1c36" stroke-width="0.95"/>
<circle cx="465.45" cy="478.2640625" r="1.35" fill="#fff" stroke="#111" stroke-width="0.85"/>
<circle cx="471.45" cy="478.2640625" r="1.35" fill="#fff" stroke="#111" stroke-width="0.85"/>
<circle cx="468.45" cy="500.1925" r="1.15" fill="#111" stroke="none" stroke-width="1"/>
<text x="470.8" y="550.65" font-size="6.9" fill="#383838" stroke="#383838" text-anchor="end" textLength="10.13" lengthAdjust="spacingAndGlyphs" transform="rotate(-45 470.8 550.65)">245</text>
<line x1="493.35" y1="541.25" x2="493.35" y2="544.25" stroke="#1a1a1a" stroke-width="1"/>
<rect x="485.0" y="523.9871875" width="16.7" height="17.262812499999995" fill="#1f4f8e" stroke="none" stroke-width="1" rx="0"/>
<line x1="493.35" y1="521.1878125000001" x2="493.35" y2="523.9871875" stroke="#222" stroke-width="0.95"/>
<line x1="490.25" y1="521.1878125000001" x2="496.45000000000005" y2="521.1878125000001" stroke="#222" stroke-width="0.95"/>
<line x1="493.35" y1="523.9871875" x2="493.35" y2="526.7865625" stroke="#0c1c36" stroke-width="0.95"/>
<line x1="490.25" y1="526.7865625" x2="496.45000000000005" y2="526.7865625" stroke="#0c1c36" stroke-width="0.95"/>
<circle cx="491.35" cy="519.788125" r="1.15" fill="#111" stroke="none" stroke-width="1"/>
<circle cx="496.35" cy="523.0540625" r="1.15" fill="#111" stroke="none" stroke-width="1"/>
<circle cx="493.35" cy="526.32" r="1.15" fill="#111" stroke="none" stroke-width="1"/>
<text x="494.7" y="550.65" font-size="6.9" fill="#383838" stroke="#383838" text-anchor="end" textLength="10.13" lengthAdjust="spacingAndGlyphs" transform="rotate(-45 494.7 550.65)">622</text>
<line x1="460" y1="562.4" x2="494.5" y2="562.4" stroke="#222" stroke-width="0.9"/>
<text x="477.85" y="571.4" font-size="6.8" fill="#383838" stroke="#383838" text-anchor="middle" textLength="7.65" lengthAdjust="spacingAndGlyphs">R2</text>
<rect x="0" y="0" width="520" height="1.1" fill="#6a6a6a"/>
<rect x="0" y="0" width="1.1" height="579" fill="#5a5a5a"/>
<rect x="518.9" y="0" width="1.1" height="579" fill="#3c3c3c"/>
<rect x="0" y="577.7" width="520" height="1.3" fill="#333"/>
</svg>
</body></html>
